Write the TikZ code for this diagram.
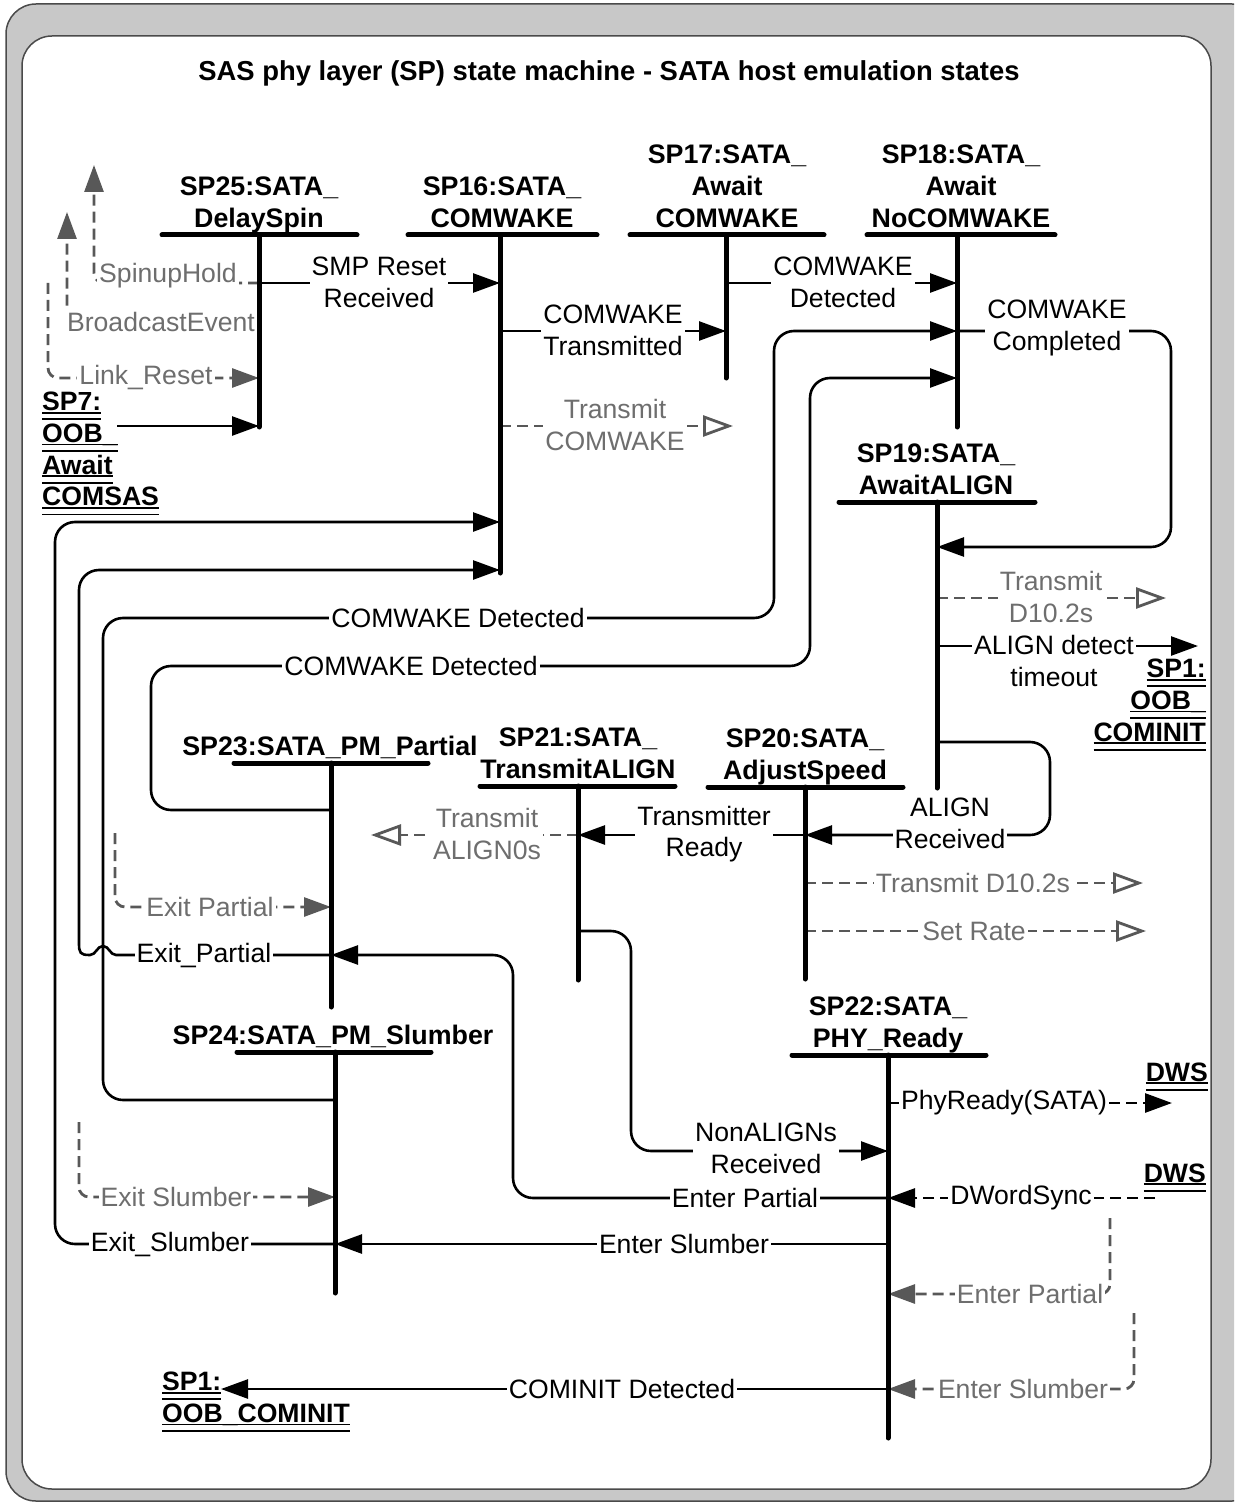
\documentclass[tikz,border=0pt]{standalone}
\usepackage{fontspec}
\setmainfont{Liberation Sans}
\usetikzlibrary{arrows.meta}

\definecolor{framefill}{HTML}{C8C8C8}
\definecolor{frameline}{HTML}{4A4A4A}
\definecolor{sigtext}{HTML}{6E6E6E}
\definecolor{sigline}{HTML}{585858}

% double underline used for references to other state diagrams
\newlength\dulw
\newcommand\dul[1]{\settowidth{\dulw}{#1}\rlap{\rule[-3pt]{\dulw}{1.8pt}}\rlap{\rule[-9.5pt]{\dulw}{1.8pt}}#1}

\begin{document}
\begin{tikzpicture}[x=1pt,y=-1pt,
  txt/.style={font=\fontsize{26.6}{31.7}\selectfont},
  stlbl/.style={font=\fontsize{26.8}{31.7}\selectfont\bfseries,align=center,inner sep=0pt,anchor=south},
  xref/.style={font=\fontsize{26.6}{31.7}\selectfont\bfseries,inner sep=0pt},
  sbar/.style={line width=5pt,line cap=round},
  conn/.style={line width=2.6pt,rounded corners=20pt},
  gdash/.style={line width=2.8pt,draw=sigline,dash pattern=on 11pt off 6pt,rounded corners=10pt},
  bdash/.style={line width=2.8pt,dash pattern=on 11pt off 6pt},
  arr/.style={-{Triangle[length=27pt,width=19pt]}},
  oarr/.style={-{Triangle[open,length=30pt,width=21pt]}},
  lbl/.style={txt,fill=white,align=center,inner sep=2pt},
  glbl/.style={lbl,text=sigtext},
]
\useasboundingbox (0,0) rectangle (1234,1503);

% ---- frame ----
\begin{scope}
  \clip (0,0) rectangle (1234,1503);
  \draw[fill=framefill,draw=frameline,line width=1.5pt,rounded corners=30pt] (6,4) rectangle (1262,1501);
\end{scope}
\draw[fill=white,draw=frameline,line width=1.5pt,rounded corners=30pt] (22,36) rectangle (1211,1489);

\node[font=\fontsize{27.4}{32}\selectfont\bfseries] (title) at (609,73)
  {SAS phy layer (SP) state machine - SATA host emulation states};

% ---- state lines (top and bottom of each vertical) ----
\coordinate (s25) at (259,235);  \coordinate (s25e) at (259,427);
\coordinate (s16) at (500,235);  \coordinate (s16e) at (500,573);
\coordinate (s17) at (726,235);  \coordinate (s17e) at (726,378);
\coordinate (s18) at (957,235);  \coordinate (s18e) at (957,427);
\coordinate (s19) at (937,502);  \coordinate (s19e) at (937,788);
\coordinate (s23) at (331,763);  \coordinate (s23e) at (331,1007);
\coordinate (s21) at (578,786);  \coordinate (s21e) at (578,980);
\coordinate (s20) at (805,787);  \coordinate (s20e) at (805,979);
\coordinate (s24) at (335,1052); \coordinate (s24e) at (335,1293);
\coordinate (s22) at (888,1055); \coordinate (s22e) at (888,1438);

% free ends of signals
\coordinate (sp7o) at (117,426);
\coordinate (spinup) at (94,165);
\coordinate (bcast) at (67,212);
\coordinate (lnkrst) at (48,283);
\coordinate (txcw) at (733,426);
\coordinate (txd19) at (1166,598);
\coordinate (adt) at (1198,646);
\coordinate (txa0) at (371,835);
\coordinate (txd20) at (1143,883);
\coordinate (setrate) at (1146,931);
\coordinate (phyrdy) at (1172,1103);
\coordinate (dwsync) at (1155,1198);
\coordinate (xpart) at (115,833);
\coordinate (xslum) at (79,1122);
\coordinate (epart) at (1110,1218);
\coordinate (eslum) at (1134,1313);
\coordinate (cominit) at (221,1389);

% ---- SP25 ----
\draw[gdash,arr] (s25|-0,283) -- (94,283) -- (spinup);
\draw[gdash,arr] (s25|-0,322) -- (67,322) -- (bcast);
\draw[gdash,arr] (lnkrst) -- (48,378) -- (s25|-0,378);
\draw[conn,arr] (sp7o) -- (s25|-sp7o);
\draw[conn,arr] (s25|-0,283) -- (s16|-0,283);

% ---- SP16 / SP17 / SP18 ----
\draw[conn,arr] (s16|-0,331) -- (s17|-0,331);
\draw[gdash,oarr] (s16|-txcw) -- (txcw);
\draw[conn,arr] (s17|-0,283) -- (s18|-0,283);
\draw[conn,arr] (s18|-0,331) -- (1171,331) -- (1171,547) -- (s19|-0,547);

% ---- returns to SP18 ----
\draw[conn,arr] (s24|-0,1100) -- (103,1100) -- (103,618) -- (774,618) -- (774,331) -- (s18|-0,331);
\draw[conn,arr] (s23|-0,810) -- (151,810) -- (151,666) -- (810,666) -- (810,378) -- (s18|-0,378);

% ---- returns to SP16 ----
\draw[conn,arr] (s24|-0,1244) -- (55,1244) -- (55,522) -- (s16|-0,522);
\draw[conn,arr,sharp corners] (s23|-0,955) -- (116,955)
  .. controls (110,955) and (109,946) .. (103,946)
  .. controls (97,946) and (96,955) .. (90,955)
  .. controls (80,955) and (79,953) .. (79,943)
  [rounded corners=20pt] -- (79,570) -- (s16|-0,570);

% ---- SP19 ----
\draw[gdash,oarr] (s19|-txd19) -- (txd19);
\draw[conn,arr] (s19|-adt) -- (adt);
\draw[conn,arr] (s19|-0,742) -- (1050,742) -- (1050,835) -- (s20|-0,835);

% ---- SP20 / SP21 ----
\draw[conn,arr] (s20|-0,835) -- (s21|-0,835);
\draw[gdash,oarr] (s21|-txa0) -- (txa0);
\draw[gdash,oarr] (s20|-txd20) -- (txd20);
\draw[gdash,oarr] (s20|-setrate) -- (setrate);
\draw[conn,arr] (s21|-0,931) -- (631,931) -- (631,1151) -- (s22|-0,1151);

% ---- SP23 / SP24 inputs ----
\draw[gdash,arr] (xpart) -- (115,907) -- (s23|-0,907);
\draw[gdash,arr] (xslum) -- (79,1197) -- (s24|-0,1197);

% ---- SP22 ----
\draw[bdash,arr] (s22|-phyrdy) -- (phyrdy);
\draw[bdash,arr] (dwsync) -- (s22|-dwsync);
\draw[conn,arr] (s22|-0,1198) -- (513,1198) -- (513,955) -- (s23|-0,955);
\draw[conn,arr] (s22|-0,1244) -- (s24|-0,1244);
\draw[gdash,arr] (epart) -- (1110,1294) -- (s22|-0,1294);
\draw[gdash,arr] (eslum) -- (1134,1389) -- (s22|-0,1389);
\draw[conn,arr] (s22|-cominit) -- (cominit);

% ---- state bars ----
\draw[sbar] (162,235) -- (357,235);   \draw[sbar] (s25) -- (s25e);
\draw[sbar] (408,235) -- (597,235);   \draw[sbar] (s16) -- (s16e);
\draw[sbar] (630,235) -- (824,235);   \draw[sbar] (s17) -- (s17e);
\draw[sbar] (867,235) -- (1055,235);  \draw[sbar] (s18) -- (s18e);
\draw[sbar] (839,502) -- (1035,502);  \draw[sbar] (s19) -- (s19e);
\draw[sbar] (234,763) -- (428,763);   \draw[sbar] (s23) -- (s23e);
\draw[sbar] (480,786) -- (675,786);   \draw[sbar] (s21) -- (s21e);
\draw[sbar] (708,787) -- (903,787);   \draw[sbar] (s20) -- (s20e);
\draw[sbar] (237,1052) -- (431,1052); \draw[sbar] (s24) -- (s24e);
\draw[sbar] (792,1055) -- (986,1055); \draw[sbar] (s22) -- (s22e);

% ---- state names ----
\node[stlbl] (n25) at (259,237) {SP25:SATA\_\\DelaySpin\strut};
\node[stlbl] (n16) at (502,237) {SP16:SATA\_\\COMWAKE\strut};
\node[stlbl] (n17) at (727,237) {SP17:SATA\_\\Await\\COMWAKE\strut};
\node[stlbl] (n18) at (961,237) {SP18:SATA\_\\Await\\NoCOMWAKE\strut};
\node[stlbl] (n19) at (936,504) {SP19:SATA\_\\AwaitALIGN\strut};
\node[stlbl] (n23) at (330,765) {SP23:SATA\_PM\_Partial\strut};
\node[stlbl] (n21) at (578,788) {SP21:SATA\_\\TransmitALIGN\strut};
\node[stlbl] (n20) at (805,789) {SP20:SATA\_\\AdjustSpeed\strut};
\node[stlbl] (n24) at (333,1054) {SP24:SATA\_PM\_Slumber\strut};
\node[stlbl] (n22) at (888,1057) {SP22:SATA\_\\PHY\_Ready\strut};

% ---- references to other diagrams ----
\node[xref,anchor=north west,align=left] (sp7) at (42,392)
  {\dul{SP7:}\\\dul{OOB\_}\\\dul{Await}\\\dul{COMSAS}};
\node[xref,anchor=north east,align=right] (sp1r) at (1206,659)
  {\dul{SP1:}\\\dul{OOB\_}\\\dul{COMINIT}};
\node[xref,anchor=north west,align=left] (sp1b) at (162,1372)
  {\dul{SP1:}\\\dul{OOB\_COMINIT}};
\node[xref,anchor=base east] (dws1) at (1208,1081) {\dul{DWS}};
\node[xref,anchor=base east] (dws2) at (1206,1182) {\dul{DWS}};

% ---- transition labels ----
\node[glbl] (t1) at (168,276) {SpinupHold};
\node[glbl] (t2) at (161,322) {BroadcastEvent};
\node[glbl] (t3) at (146,378) {Link\_Reset};
\node[lbl] (t4) at (379,282) {SMP Reset\\Received};
\node[lbl] (t5) at (613,330) {COMWAKE\\Transmitted};
\node[glbl] (t6) at (615,425) {Transmit\\COMWAKE};
\node[lbl] (t7) at (843,282) {COMWAKE\\Detected};
\node[lbl] (t8) at (1057,328) {COMWAKE\\Completed};
\node[lbl] (t9) at (458,618) {COMWAKE Detected};
\node[lbl] (t10) at (411,666) {COMWAKE Detected};
\node[glbl] (t11) at (1051,597) {Transmit\\D10.2s};
\node[lbl] (t12) at (1054,661) {ALIGN detect\\timeout};
\node[lbl] (t13) at (950,823) {ALIGN\\Received};
\node[lbl] (t14) at (704,834) {Transmitter\\Ready};
\node[glbl] (t15) at (487,834) {Transmit\\ALIGN0s};
\node[glbl] (t16) at (973,883) {Transmit D10.2s};
\node[glbl] (t17) at (974,931) {Set Rate};
\node[glbl] (t18) at (210,907) {Exit Partial};
\node[lbl] (t19) at (204,955) {Exit\_Partial};
\node[lbl] (t20) at (766,1148) {NonALIGNs\\Received};
\node[lbl] (t21) at (1004,1103) {PhyReady(SATA)};
\node[lbl] (t22) at (1021,1198) {DWordSync};
\node[lbl] (t23) at (745,1198) {Enter Partial};
\node[glbl] (t24) at (176,1197) {Exit Slumber};
\node[lbl] (t25) at (170,1244) {Exit\_Slumber};
\node[lbl] (t26) at (684,1244) {Enter Slumber};
\node[glbl] (t27) at (1030,1294) {Enter Partial};
\node[glbl] (t28) at (1023,1389) {Enter Slumber};
\node[lbl] (t29) at (622,1389) {COMINIT Detected};
\end{tikzpicture}
\end{document}
